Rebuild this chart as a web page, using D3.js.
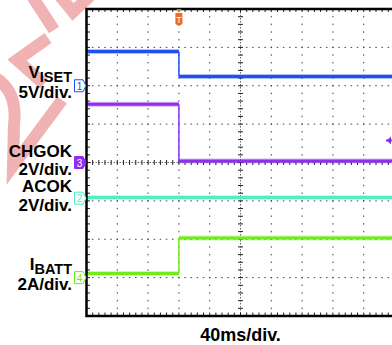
<!DOCTYPE html>
<html>
<head>
<meta charset="utf-8">
<style>
  body { margin: 0; background: #fff; }
  svg { display: block; }
  text { font-family: "Liberation Sans", Arial, sans-serif; font-weight: bold; fill: #000; }
</style>
</head>
<body>
<script src="https://cdn.jsdelivr.net/npm/d3@7/dist/d3.min.js"></script>
<script>

    // scope capture: time in ms, levels in V (or A for IBATT)
    var times = [0, 120, 120, 400];
    var viset = [4.45, 4.45, 1.2, 1.2];
    var acok = [0.03, 0.03, 0.03, 0.03];
    var chgok = [3.03, 3.03, 0.08, 0.08];
    var ibatt = [0.22, 0.22, 2.07, 2.07];

    var chNames = ["V", "ACOK", "CHGOK", "I"];
    var chSubs = ["ISET", "", "", "BATT"];
    var chScaleLabels = ["5V/div.", "2V/div.", "2V/div.", "2A/div."];
    var chNumbers = ["1", "2", "3", "4"];
    var chPerDiv = [5, 2, 2, 2];
    var chOffsetDiv = [2, -0.93, 0, -3];
    var msPerDiv = 40;
    var trigTime = 120;
    var trigLevel = 1.15;
    var timeLabel = "40ms/div.";

    var series = [viset, acok, chgok, ibatt];
    var colors = ["#1f50f0", "#50eec0", "#8f2ef0", "#72ea1c"];

    var width = 392,
        height = 345;

    var svg = d3.select("body").append("svg")
        .attr("width", width)
        .attr("height", height);

    // watermark strokes behind everything
    var wm = svg.append("g")
        .attr("fill", "none")
        .attr("stroke", "#f0b2b2")
        .attr("stroke-width", 12)
        .attr("stroke-linejoin", "miter");
    wm.append("path").attr("d", "M32,-4 L54,30");
    wm.append("path").attr("d", "M48,38 L17,60 L44,84");
    wm.append("path").attr("d", "M60,-4 L73,12 L90,-4");
    wm.append("path").attr("d", "M-4,78 Q18,92 14,125 L13,166 L62,100");

    var x = d3.scaleLinear()
        .domain([0, 10 * msPerDiv])
        .range([86.5, 394.5]);

    var yDiv = d3.scaleLinear()
        .domain([-4, 4])
        .range([316, 9]);

    function yVal(ch, v) {
        return yDiv(v / chPerDiv[ch] + chOffsetDiv[ch]);
    }

    svg.append("rect")
        .attr("x", x(0)).attr("y", yDiv(4))
        .attr("width", x(400) - x(0)).attr("height", yDiv(-4) - yDiv(4))
        .attr("fill", "#fff");

    var grid = svg.append("g").attr("fill", "#444");

    var minorY = d3.range(1, 40).map(function (k) { return -4 + k * 0.2; });
    var minorX = d3.range(1, 50).map(function (k) { return k * msPerDiv / 5; });

    // dotted division lines
    d3.range(1, 10).filter(function (i) { return i != 5; }).forEach(function (i) {
        grid.selectAll(null)
            .data(minorY)
            .enter().append("rect")
            .attr("x", x(i * msPerDiv) - 0.5)
            .attr("y", function (d) { return yDiv(d) - 0.75; })
            .attr("width", 1).attr("height", 1.5);
    });
    d3.range(-3, 4).filter(function (j) { return j != 0; }).forEach(function (j) {
        grid.selectAll(null)
            .data(minorX)
            .enter().append("rect")
            .attr("x", function (d) { return x(d) - 0.75; })
            .attr("y", yDiv(j) - 0.5)
            .attr("width", 1.5).attr("height", 1);
    });

    // center cross with ticks
    var cx = x(5 * msPerDiv), cy = yDiv(0);
    svg.append("line")
        .attr("x1", cx).attr("x2", cx).attr("y1", yDiv(4)).attr("y2", yDiv(-4))
        .attr("stroke", "#666").attr("stroke-width", 1).attr("stroke-dasharray", "1.5,1.5");
    svg.append("line")
        .attr("x1", x(0)).attr("x2", x(400)).attr("y1", cy).attr("y2", cy)
        .attr("stroke", "#666").attr("stroke-width", 1).attr("stroke-dasharray", "1.5,1.5");

    var ticks = svg.append("g").attr("stroke", "#222").attr("stroke-width", 1);
    ticks.selectAll(null).data(minorY).enter().append("line")
        .attr("x1", cx - 2.5).attr("x2", cx + 2.5)
        .attr("y1", function (d) { return yDiv(d); })
        .attr("y2", function (d) { return yDiv(d); });
    ticks.selectAll(null).data(minorX).enter().append("line")
        .attr("y1", cy - 2.5).attr("y2", cy + 2.5)
        .attr("x1", function (d) { return x(d); })
        .attr("x2", function (d) { return x(d); });

    // border ticks
    ticks.selectAll(null).data(minorY).enter().append("line")
        .attr("x1", x(0)).attr("x2", x(0) + 3.5)
        .attr("y1", function (d) { return yDiv(d); })
        .attr("y2", function (d) { return yDiv(d); });
    ticks.selectAll(null).data(minorX).enter().append("line")
        .attr("y1", yDiv(-4)).attr("y2", yDiv(-4) - 3.5)
        .attr("x1", function (d) { return x(d); })
        .attr("x2", function (d) { return x(d); });
    ticks.selectAll(null).data(minorX).enter().append("line")
        .attr("y1", yDiv(4)).attr("y2", yDiv(4) + 3)
        .attr("x1", function (d) { return x(d); })
        .attr("x2", function (d) { return x(d); });

    // traces
    series.forEach(function (vals, ch) {
        var pts = vals.map(function (v, k) { return [x(times[k]), yVal(ch, v)]; });
        var g = svg.append("g");
        for (var k = 0; k < pts.length - 1; k++) {
            var vertical = pts[k][0] == pts[k + 1][0];
            if (!vertical) {
                g.append("line")
                    .attr("x1", pts[k][0]).attr("y1", pts[k][1])
                    .attr("x2", pts[k + 1][0]).attr("y2", pts[k + 1][1])
                    .attr("stroke", colors[ch]).attr("stroke-opacity", 0.35)
                    .attr("stroke-width", 5);
            }
            g.append("line")
                .attr("x1", pts[k][0]).attr("y1", pts[k][1])
                .attr("x2", pts[k + 1][0]).attr("y2", pts[k + 1][1])
                .attr("stroke", colors[ch])
                .attr("stroke-width", vertical ? 1.5 : 3);
        }
    });

    // frame
    svg.append("rect")
        .attr("x", x(0)).attr("y", yDiv(4))
        .attr("width", x(400) - x(0)).attr("height", yDiv(-4) - yDiv(4))
        .attr("fill", "none").attr("stroke", "#000").attr("stroke-width", 2.5);

    // channel ground markers and labels
    chNames.forEach(function (name, ch) {
        var gy = yDiv(chOffsetDiv[ch]);
        var filled = ch == 2;
        var m = svg.append("g").attr("transform", "translate(74," + gy + ")");
        m.append("path")
            .attr("d", "M0.5,-6 H9 L12,0 L9,6 H0.5 Z")
            .attr("fill", filled ? colors[ch] : "#fff")
            .attr("stroke", colors[ch]).attr("stroke-width", 1);
        m.append("text")
            .attr("x", 5.5).attr("y", 4)
            .attr("text-anchor", "middle")
            .style("font-size", "10px").style("font-weight", "normal")
            .style("fill", filled ? "#fff" : colors[ch])
            .text(chNumbers[ch]);

        var t1 = svg.append("text")
            .attr("x", 72).attr("y", gy - (chSubs[ch] ? 8 : 6))
            .attr("text-anchor", "end")
            .style("font-size", "17px");
        t1.append("tspan").text(name);
        if (chSubs[ch]) {
            t1.append("tspan").attr("dy", 4).style("font-size", "14.5px").text(chSubs[ch]);
        }
        svg.append("text")
            .attr("x", 72).attr("y", gy + 12.5)
            .attr("text-anchor", "end")
            .style("font-size", "17px")
            .text(chScaleLabels[ch]);
    });

    // trigger position marker
    var tx = x(trigTime);
    var tm = svg.append("g").attr("transform", "translate(" + tx + ",0)");
    tm.append("path").attr("d", "M-2.5,9 H2.5 L0,12.5 Z").attr("fill", "#f06a20");
    tm.append("path").attr("d", "M-3.5,13 H3.5 V24 L0,26 L-3.5,24 Z").attr("fill", "#f06a20");
    tm.append("text")
        .attr("x", 0).attr("y", 22.5).attr("text-anchor", "middle")
        .style("font-size", "9px").style("font-weight", "normal").style("fill", "#fff")
        .text("T");

    // trigger level marker (ch3)
    var ty = yVal(2, trigLevel);
    svg.append("path")
        .attr("d", "M386.5," + ty + " L391," + (ty - 4) + " V" + (ty + 4) + " Z")
        .attr("fill", colors[2]);
    svg.append("rect")
        .attr("x", 386).attr("y", ty - 1).attr("width", 6).attr("height", 2)
        .attr("fill", colors[2]);

    svg.append("text")
        .attr("x", x(5 * msPerDiv)).attr("y", 341)
        .attr("text-anchor", "middle")
        .style("font-size", "18px")
        .text(timeLabel);

</script>
</body>
</html>
